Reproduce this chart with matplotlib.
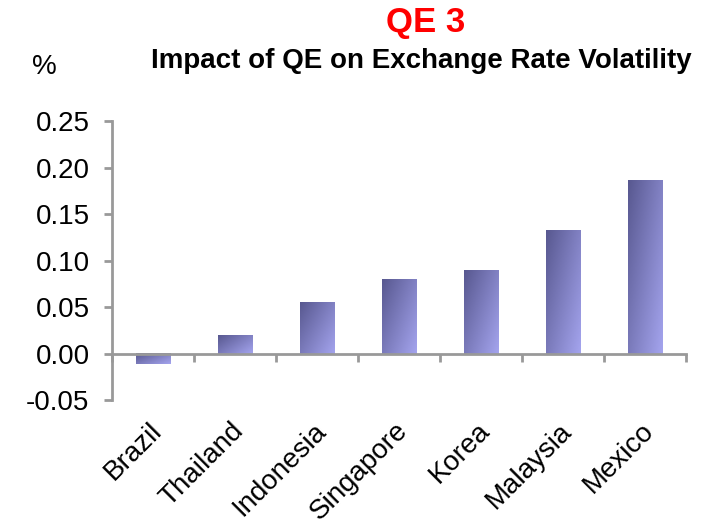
import numpy as np
import matplotlib.pyplot as plt
from matplotlib.colors import LinearSegmentedColormap
from matplotlib import transforms

plt.rcParams['font.family'] = ['Liberation Sans', 'DejaVu Sans']

countries = ['Brazil', 'Thailand', 'Indonesia', 'Singapore', 'Korea', 'Malaysia', 'Mexico']
impact = [-0.011, 0.020, 0.055, 0.080, 0.090, 0.133, 0.187]
yticks = [-0.05, 0.00, 0.05, 0.10, 0.15, 0.20, 0.25]

fig = plt.figure(figsize=(7.21, 5.27), dpi=100)
ax = fig.add_axes([0.155, 0.241, 0.797, 0.529])

x = np.arange(len(countries))
bars = ax.bar(x, impact, width=0.42, color='none', edgecolor='none')

# diagonal gradient: dark top-left -> light bottom-right
cmap = LinearSegmentedColormap.from_list('qe', ['#585890', '#a4a4ee'])
gx, gy = np.meshgrid(np.linspace(0, 1, 50), np.linspace(0, 1, 50))
grad = 0.55 * gx + 0.45 * gy
for b in bars:
    x0, y0 = b.get_x(), b.get_y()
    w, h = b.get_width(), b.get_height()
    top, bot = max(y0, y0 + h), min(y0, y0 + h)
    ax.imshow(grad, cmap=cmap, extent=[x0, x0 + w, bot, top], aspect='auto',
              origin='upper', zorder=2)

ax.set_xlim(-0.5, len(countries) - 0.5)
ax.set_ylim(-0.05, 0.25)

ax.set_yticks(yticks)
ax.set_yticklabels(['%.2f' % v for v in yticks], fontsize=20)
ax.tick_params(axis='y', length=6, width=2, color='#999999', pad=10)

for s in ['top', 'right']:
    ax.spines[s].set_visible(False)
ax.spines['left'].set_color('#999999')
ax.spines['left'].set_linewidth(2)
ax.spines['bottom'].set_position(('data', 0))
ax.spines['bottom'].set_color('#999999')
ax.spines['bottom'].set_linewidth(2)
ax.spines['bottom'].set_zorder(3)

ax.set_xticks(np.arange(len(countries) + 1) - 0.5)
ax.set_xticklabels([])
ax.tick_params(axis='x', direction='out', length=6, width=2, color='#999999')

trans = transforms.blended_transform_factory(ax.transData, ax.transAxes)
for i, name in enumerate(countries):
    ax.text(i + 0.06, -0.097, name, transform=trans, rotation=45, fontsize=20,
            ha='right', va='center', rotation_mode='anchor')

fig.text(0.59, 0.958, 'QE 3', color='#ff0000', fontsize=25, fontweight='bold',
         ha='center', va='center')
fig.text(0.585, 0.884, 'Impact of QE on Exchange Rate Volatility', fontsize=20,
         fontweight='bold', ha='center', va='center')
fig.text(0.062, 0.872, '%', fontsize=20, ha='center', va='center')

fig.savefig('out.png', dpi=100)
